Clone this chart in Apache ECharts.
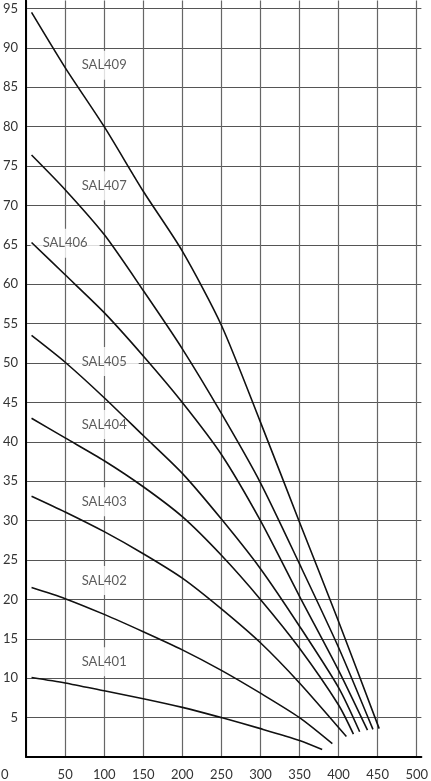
<!DOCTYPE html>
<html>
<head>
<meta charset="utf-8">
<title>SAL400 curves</title>
<script src="https://cdn.jsdelivr.net/npm/echarts@6/dist/echarts.min.js"></script>
<style>
    html, body { margin: 0; padding: 0; background: #fff; }
    #chart { width: 431px; height: 781px; }
</style>
</head>
<body>
<div id="chart"></div>
<script>
    // curve names, bottom to top
    var names = ['SAL401', 'SAL402', 'SAL403', 'SAL404', 'SAL405', 'SAL406', 'SAL407', 'SAL409'];

    // x values / y values, one pair of arrays per curve
    var x401 = [7, 50, 100, 150, 200, 250, 300, 350, 379];
    var y401 = [10.1, 9.4, 8.4, 7.4, 6.3, 5.0, 3.6, 2.1, 0.95];

    var x402 = [7, 50, 100, 150, 200, 250, 300, 350, 392];
    var y402 = [21.5, 20.1, 18.1, 15.9, 13.6, 11.0, 8.1, 5.0, 1.7];

    var x403 = [7, 50, 100, 150, 200, 250, 300, 350, 410];
    var y403 = [33.1, 31.1, 28.6, 25.8, 22.7, 18.8, 14.5, 9.4, 2.6];

    var x404 = [7, 50, 100, 150, 200, 250, 300, 350, 400, 419];
    var y404 = [43.0, 40.5, 37.6, 34.3, 30.5, 25.6, 20.0, 13.8, 6.6, 2.9];

    var x405 = [7, 50, 100, 150, 200, 250, 300, 350, 400, 427];
    var y405 = [53.5, 50.1, 45.6, 40.8, 36.0, 30.2, 23.9, 16.6, 8.8, 3.2];

    var x406 = [7, 50, 100, 150, 200, 250, 300, 350, 400, 437];
    var y406 = [65.3, 61.2, 56.4, 50.9, 45.0, 38.4, 30.0, 20.4, 11.0, 3.4];

    var x407 = [7, 50, 100, 150, 200, 250, 300, 350, 400, 444];
    var y407 = [76.4, 72.0, 66.3, 59.2, 51.8, 43.6, 34.8, 24.5, 13.9, 3.5];

    var x409 = [7, 50, 100, 150, 200, 250, 300, 350, 400, 452];
    var y409 = [94.5, 87.5, 80.0, 71.8, 64.2, 54.8, 42.5, 29.8, 17.2, 3.6];

    // where the curve names sit
    var labelX = [100, 100, 100, 100, 100, 50, 100, 100];
    var labelY = [12.1, 22.4, 32.4, 42.2, 50.2, 65.2, 72.5, 87.8];

    // axis ranges
    var xMin = 0, xMax = 506, xStep = 50;
    var yMin = 0, yMax = 96, yStep = 5;

    var curves = [
        [x401, y401], [x402, y402], [x403, y403], [x404, y404],
        [x405, y405], [x406, y406], [x407, y407], [x409, y409]
    ];

    var series = curves.map(function (c, i) {
        return {
            type: 'line',
            name: names[i],
            data: c[0].map(function (x, j) { return [x, c[1][j]]; }),
            showSymbol: false,
            smooth: 0.25,
            lineStyle: { color: '#111', width: 1.6 },
            z: 3,
            silent: true
        };
    });

    // curve names on white boxes that cut the grid
    series.push({
        type: 'scatter',
        symbolSize: 0,
        z: 2,
        silent: true,
        data: names.map(function (n, i) {
            return { name: n, value: [labelX[i], labelY[i]] };
        }),
        label: {
            show: true,
            position: 'inside',
            formatter: '{b}',
            color: '#333',
            fontSize: 13,
            fontFamily: 'Lato',
            backgroundColor: '#fff',
            padding: [8, 12]
        }
    });

    var option = {
        animation: false,
        backgroundColor: '#fff',
        // the lone origin label sits below the corner
        title: {
            text: '0',
            left: 1,
            top: 768,
            padding: 0,
            textStyle: { color: '#333', fontSize: 13, fontWeight: 'normal', fontFamily: 'Lato' }
        },
        grid: { left: 25.2, right: 3.2, top: 0.6, bottom: 22 },
        xAxis: {
            type: 'value',
            min: xMin, max: xMax, interval: xStep,
            axisLine: { onZero: false, lineStyle: { color: '#000', width: 2 } },
            axisTick: { show: false },
            splitLine: { show: true, showMaxLine: false, lineStyle: { color: '#666', width: 1.2 } },
            axisLabel: {
                margin: 11,
                color: '#333',
                fontSize: 13,
                fontFamily: 'Lato',
                formatter: function (v) {
                    return (v > 0 && v % 50 === 0) ? String(v) : '';
                }
            }
        },
        yAxis: {
            type: 'value',
            min: yMin, max: yMax, interval: yStep,
            axisLine: { show: true, lineStyle: { color: '#000', width: 2 } },
            axisTick: { show: false },
            splitLine: { show: true, showMaxLine: false, lineStyle: { color: '#555', width: 1.2 } },
            axisLabel: {
                margin: 8,
                color: '#333',
                fontSize: 13,
                fontFamily: 'Lato',
                formatter: function (v) {
                    return (v > 0 && v % 5 === 0) ? String(v) : '';
                }
            }
        },
        series: series
    };

    echarts.init(document.getElementById('chart')).setOption(option);
</script>
</body>
</html>
